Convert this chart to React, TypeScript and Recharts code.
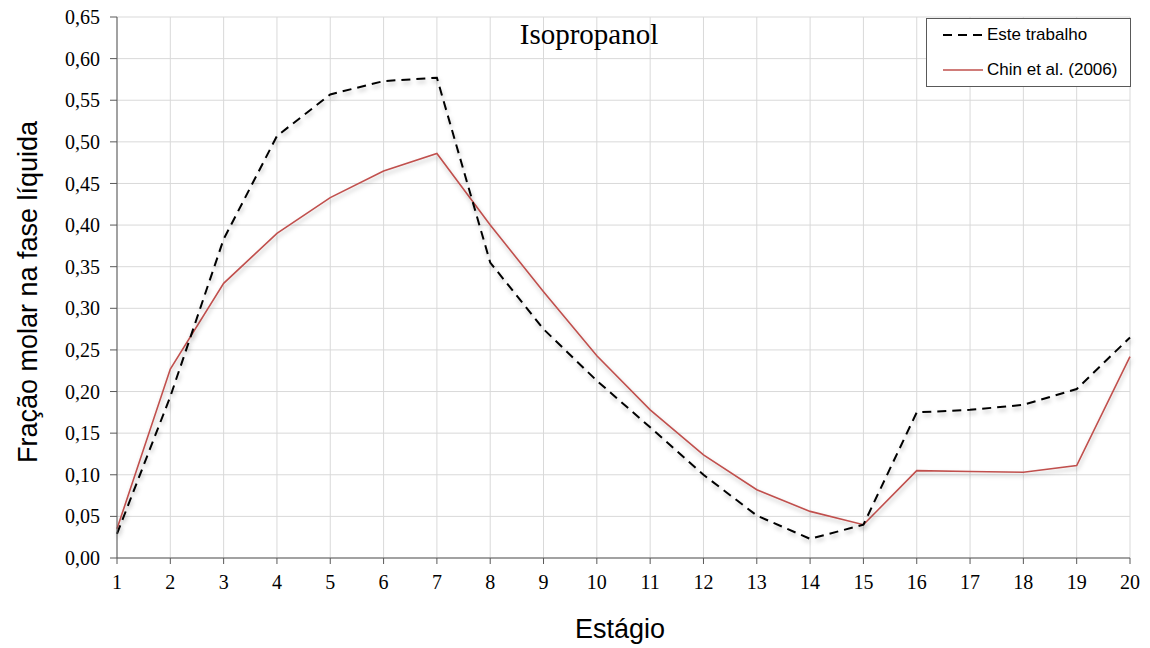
import { LineChart, Line, XAxis, YAxis, CartesianGrid } from "recharts";

// Estágios da coluna e frações molares de isopropanol na fase líquida
const stages = [1, 2, 3, 4, 5, 6, 7, 8, 9, 10, 11, 12, 13, 14, 15, 16, 17, 18, 19, 20];
const esteTrabalho = [
  0.029, 0.194, 0.383, 0.507, 0.557, 0.573, 0.577, 0.355, 0.275, 0.213,
  0.157, 0.1, 0.051, 0.023, 0.04, 0.175, 0.178, 0.184, 0.203, 0.265,
];
const chin2006 = [
  0.035, 0.227, 0.33, 0.39, 0.433, 0.465, 0.486, 0.4, 0.32, 0.243,
  0.178, 0.124, 0.082, 0.056, 0.04, 0.105, 0.104, 0.103, 0.111, 0.242,
];
const yTicks = [0, 0.05, 0.1, 0.15, 0.2, 0.25, 0.3, 0.35, 0.4, 0.45, 0.5, 0.55, 0.6, 0.65];

const data = stages.map((s, i) => ({
  stage: s,
  este: esteTrabalho[i],
  chin: chin2006[i],
}));

const SERIF = '"Liberation Serif", "Times New Roman", serif';
const SANS = '"Liberation Sans", Arial, sans-serif';
const RED = "#c0504d";

function fmt(v: number): string {
  return v.toFixed(2).replace(".", ",");
}

export default function App() {
  return (
    <div style={{ position: "absolute", left: 0, top: 0, width: 1150, height: 648, background: "#fff" }}>
      <LineChart
        width={1150}
        height={648}
        data={data}
        margin={{ top: 17, right: 20, left: 57, bottom: 60 }}
      >
        <defs>
          <filter id="sombra" x="-5%" y="-5%" width="110%" height="120%">
            <feDropShadow dx="1" dy="3" stdDeviation="2" floodColor="#000" floodOpacity="0.25" />
          </filter>
        </defs>
        <CartesianGrid stroke="#d9d9d9" strokeWidth={1} />
        <XAxis
          dataKey="stage"
          type="number"
          domain={[1, 20]}
          ticks={stages}
          interval={0}
          height={30}
          stroke="#595959"
          tickSize={6}
          tickMargin={11}
          tick={{ fontFamily: SERIF, fontSize: 20, fill: "#000" }}
        />
        <YAxis
          type="number"
          domain={[0, 0.65]}
          ticks={yTicks}
          interval={0}
          width={60}
          stroke="#595959"
          tickSize={7}
          tickMargin={10}
          tickFormatter={fmt}
          tick={{ fontFamily: SERIF, fontSize: 20, fill: "#000" }}
        />
        <Line
          dataKey="chin"
          name="Chin et al. (2006)"
          stroke={RED}
          strokeWidth={1.6}
          dot={false}
          filter="url(#sombra)"
          isAnimationActive={false}
        />
        <Line
          dataKey="este"
          name="Este trabalho"
          stroke="#000"
          strokeWidth={2}
          strokeDasharray="9 6"
          dot={false}
          filter="url(#sombra)"
          isAnimationActive={false}
        />
      </LineChart>

      <div
        style={{
          position: "absolute",
          left: 489,
          top: 18,
          width: 200,
          textAlign: "center",
          fontFamily: SERIF,
          fontSize: 29,
          color: "#000",
        }}
      >
        Isopropanol
      </div>

      <div
        style={{
          position: "absolute",
          left: 926,
          top: 18,
          width: 203,
          height: 67,
          border: "1px solid #595959",
          background: "#fff",
          fontFamily: SANS,
          fontSize: 17,
          color: "#000",
        }}
      >
        <div style={{ position: "absolute", left: 15, top: 6, display: "flex", alignItems: "center" }}>
          <svg width={42} height={20}>
            <line x1={1} y1={10} x2={41} y2={10} stroke="#000" strokeWidth={2} strokeDasharray="9 6" />
          </svg>
          <span style={{ marginLeft: 3 }}>Este trabalho</span>
        </div>
        <div style={{ position: "absolute", left: 15, top: 41, display: "flex", alignItems: "center" }}>
          <svg width={42} height={20}>
            <line x1={1} y1={10} x2={41} y2={10} stroke={RED} strokeWidth={1.6} />
          </svg>
          <span style={{ marginLeft: 3 }}>Chin et al. (2006)</span>
        </div>
      </div>

      <div
        style={{
          position: "absolute",
          left: 520,
          top: 614,
          width: 200,
          textAlign: "center",
          fontFamily: SANS,
          fontSize: 27,
          color: "#000",
        }}
      >
        Estágio
      </div>

      <div
        style={{
          position: "absolute",
          left: 28,
          top: 292,
          transform: "translate(-50%, -50%) rotate(-90deg)",
          whiteSpace: "nowrap",
          fontFamily: SANS,
          fontSize: 27,
          color: "#000",
        }}
      >
        Fração molar na fase líquida
      </div>
    </div>
  );
}
